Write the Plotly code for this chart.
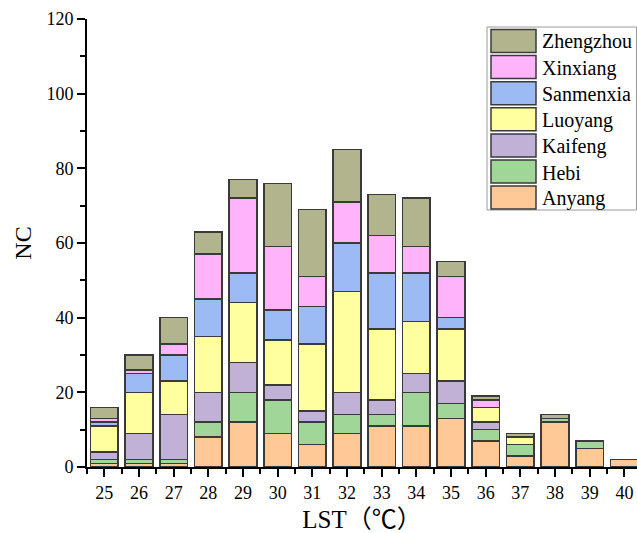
import plotly.graph_objects as go

# LST bins (°C)
lst = [25, 26, 27, 28, 29, 30, 31, 32, 33, 34, 35, 36, 37, 38, 39, 40]

# counts per city for each LST bin (stacked bottom -> top)
anyang    = [1, 1, 1, 8, 12, 9, 6, 9, 11, 11, 13, 7, 3, 12, 5, 2]
hebi      = [1, 1, 1, 4, 8, 9, 6, 5, 3, 9, 4, 3, 3, 1, 2, 0]
kaifeng   = [2, 7, 12, 8, 8, 4, 3, 6, 4, 5, 6, 2, 0, 0, 0, 0]
luoyang   = [7, 11, 9, 15, 16, 12, 18, 27, 19, 14, 14, 4, 2, 0, 0, 0]
sanmenxia = [1, 5, 7, 10, 8, 8, 10, 13, 15, 13, 3, 0, 0, 0, 0, 0]
xinxiang  = [1, 1, 3, 12, 20, 17, 8, 11, 10, 7, 11, 2, 0, 0, 0, 0]
zhengzhou = [3, 4, 7, 6, 5, 17, 18, 14, 11, 13, 4, 1, 1, 1, 0, 0]

city_names = ["Anyang", "Hebi", "Kaifeng", "Luoyang", "Sanmenxia", "Xinxiang", "Zhengzhou"]
city_values = [anyang, hebi, kaifeng, luoyang, sanmenxia, xinxiang, zhengzhou]
city_colors = ["#FFC896", "#A1D699", "#C2B1D7", "#FFFF9F", "#9CBBF4", "#FFB3F9", "#B2B48E"]

W, H = 637, 533
ML, MR, MT, MB = 87, 0, 19, 66
PW, PH = W - ML - MR, H - MT - MB

FONT = "Liberation Serif, Times New Roman, Noto Sans CJK SC, serif"
EDGE = "#3a3a3a"

fig = go.Figure()
for name, vals, col in zip(city_names, city_values, city_colors):
    fig.add_trace(go.Bar(
        x=lst, y=vals, name=name, width=0.8,
        marker=dict(color=col, line=dict(color=EDGE, width=1.5)),
        showlegend=False,
    ))

# hand-built legend box (pixel layout converted to paper coordinates)
def px(x):
    return (x - ML) / PW

def py(y):
    return (H - MB - y) / PH

shapes = [dict(type="rect", xref="paper", yref="paper",
               x0=px(487), x1=px(636.5), y0=py(210), y1=py(27),
               line=dict(color="#9a9a9a", width=1), fillcolor="white", layer="above")]
annotations = []
row_h = 26.1
for i, (name, col) in enumerate(zip(city_names[::-1], city_colors[::-1])):
    top = 29.5 + i * row_h
    shapes.append(dict(type="rect", xref="paper", yref="paper",
                       x0=px(491), x1=px(536), y0=py(top + 23), y1=py(top),
                       line=dict(color=EDGE, width=1.5), fillcolor=col, layer="above"))
    annotations.append(dict(xref="paper", yref="paper", x=px(540), y=py(top + 12.5),
                            text=name, showarrow=False, xanchor="left", yanchor="middle",
                            font=dict(family=FONT, size=20, color="black")))

fig.update_layout(
    width=W, height=H,
    margin=dict(l=ML, r=MR, t=MT, b=MB),
    barmode="stack",
    plot_bgcolor="white", paper_bgcolor="white",
    font=dict(family=FONT, size=18, color="black"),
    shapes=shapes, annotations=annotations,
    xaxis=dict(
        range=[24.5, 24.5 + PW / 34.67],
        tickmode="linear", tick0=25, dtick=1,
        ticks="outside", ticklen=8, tickwidth=1.5, tickcolor="black",
        minor=dict(tickmode="linear", tick0=24.5, dtick=1, ticks="outside",
                   ticklen=5, tickwidth=1.5, tickcolor="black"),
        showline=True, linecolor="black", linewidth=1.8,
        showgrid=False, zeroline=False,
        tickfont=dict(family=FONT, size=18),
        title=dict(text="LST（℃）", font=dict(family=FONT, size=25), standoff=12),
    ),
    yaxis=dict(
        range=[0, 120],
        tickmode="linear", tick0=0, dtick=20,
        ticks="outside", ticklen=8, tickwidth=1.5, tickcolor="black",
        minor=dict(tickmode="linear", tick0=0, dtick=10, ticks="outside",
                   ticklen=5, tickwidth=1.5, tickcolor="black"),
        showline=True, linecolor="black", linewidth=1.8,
        showgrid=False, zeroline=False,
        tickfont=dict(family=FONT, size=18),
        title=dict(text="NC", font=dict(family=FONT, size=24), standoff=8),
    ),
)

fig.write_html("out.html")
